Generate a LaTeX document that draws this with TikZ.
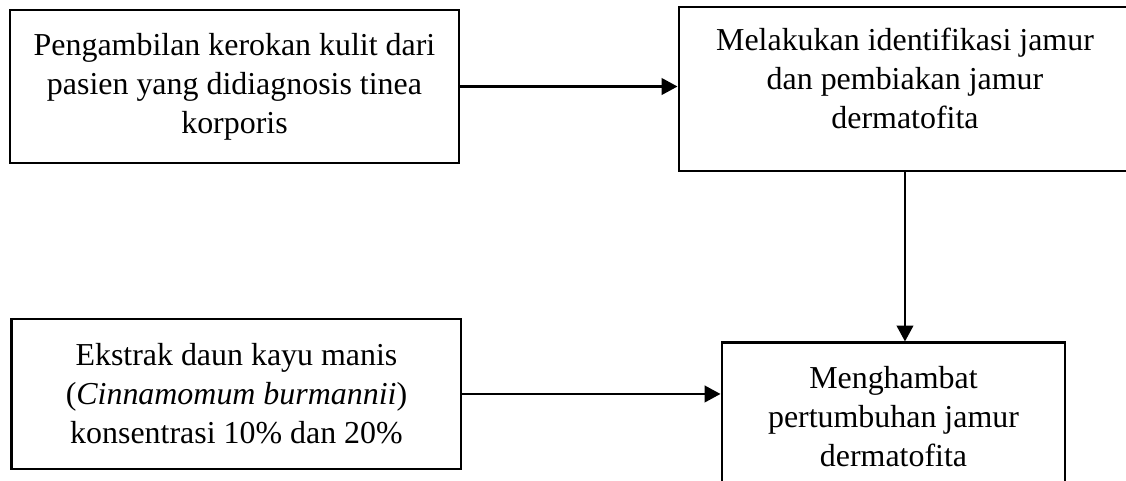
\documentclass[tikz,border=0pt]{standalone}
\usepackage{fontspec}
\setmainfont{Liberation Serif}
\usetikzlibrary{arrows.meta}

\begin{document}
\begin{tikzpicture}[box/.style = {draw, line width=1.1pt, align=center, inner sep=0pt, font=\fontsize{12}{14.7}\selectfont},
                    link/.style = {-{Triangle[length=6pt, width=6.2pt]}, line width=1pt}]
                \useasboundingbox (0, 0) rectangle (14.876, -6.354);

                \node[box, minimum width=5.932cm, minimum height=2.021cm] at (3.098, -1.143) (K) {Pengambilan kerokan kulit dari\\ pasien yang didiagnosis tinea\\ korporis};
                \node[box, minimum width=5.971cm, minimum height=2.167cm] at (11.956, -1.176) (I) {Melakukan identifikasi jamur\\ dan pembiakan jamur\\ dermatofita\\[-6.7pt] \mbox{}};
                \node[box, minimum width=5.932cm, minimum height=1.982cm] at (3.124, -5.205) (E) {Ekstrak daun kayu manis\\ (\textit{Cinnamomum burmannii})\\ konsentrasi 10\% dan 20\%};
                \node[box, minimum width=4.531cm, minimum height=1.942cm] at (11.804, -5.502) (H) {Menghambat\\ pertumbuhan jamur\\ dermatofita};

                \draw [link] (K.east) -- (K.east -| I.west);
                \draw [link] (I.south) -- (I.south |- H.north);
                \draw [link] (E.east) -- (E.east -| H.west);
\end{tikzpicture}
\end{document}
